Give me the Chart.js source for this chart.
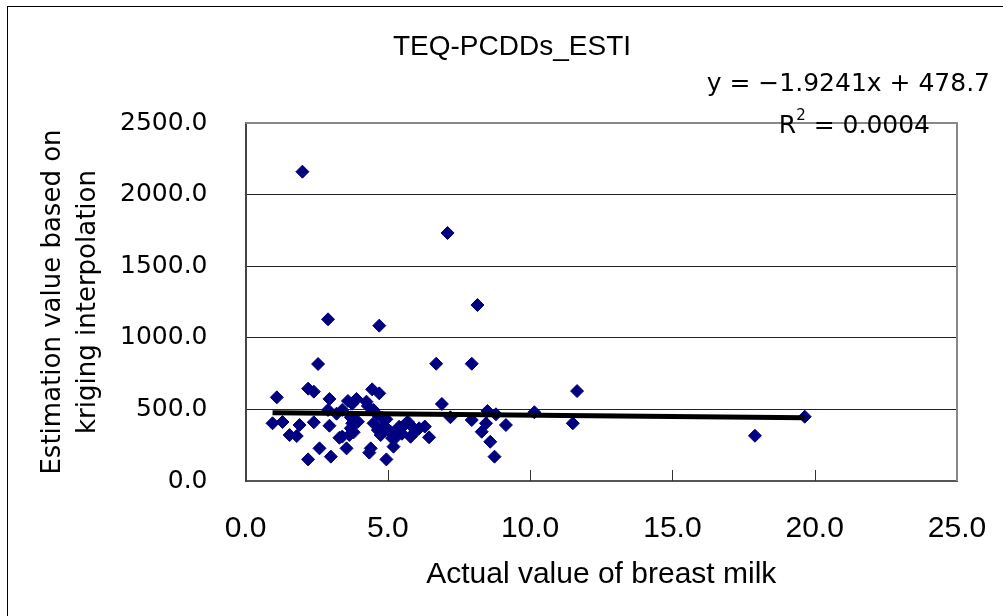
<!DOCTYPE html>
<html>
<head>
<meta charset="utf-8">
<title>TEQ-PCDDs_ESTI</title>
<script src="https://cdn.jsdelivr.net/npm/chart.js@4.4.0/dist/chart.umd.min.js"></script>
<style>
  html, body { margin: 0; padding: 0; background: #fff; }
  #contenedor { position: relative; width: 1003px; height: 616px; overflow: hidden; }
  #marco { position: absolute; left: 7px; top: 6px; width: 1020px; height: 640px; border: 1px solid #000; }
  #grafico { position: absolute; left: 0; top: 0; }
</style>
</head>
<body>
<div id="contenedor">
  <div id="marco"></div>
  <canvas id="grafico" width="1003" height="616"></canvas>
</div>
<script>
/* DATOS */
const valorLeche = [0.95, 1.1, 1.3, 1.55, 1.8, 1.9, 2.0, 2.2, 2.2, 2.4, 2.4, 2.55, 2.6, 2.9, 2.9, 2.95, 2.95, 3.0,
  3.3, 3.4, 3.55, 3.6, 3.65, 3.7, 3.75, 3.8, 3.9, 3.95, 4.25, 4.3, 4.35, 4.4, 4.45, 4.5, 4.5, 4.65, 4.7, 4.7,
  4.75, 4.85, 4.95, 4.95, 5.1, 5.2, 5.3, 5.4, 5.5, 5.7, 5.8, 5.9, 6.1, 6.45, 6.7, 6.9, 7.1, 7.2, 7.95, 7.95,
  8.15, 8.3, 8.45, 8.5, 8.6, 8.75, 8.8, 9.15, 10.15, 11.5, 11.65, 17.9, 19.65,
  3.75, 3.2, 3.7, 3.8, 3.4, 4.6, 4.8, 5.0, 5.6, 5.95, 6.3, 5.15];
const valorKriging = [403, 584, 412, 321, 314, 391, 2160, 645, 151, 624, 410, 817, 228, 1129, 496, 573, 386, 170,
  302, 496, 228, 559, 321, 368, 403, 426, 573, 414, 554, 524, 198, 228, 640, 496, 403, 356, 612, 1085,
  321, 380, 431, 151, 344, 240, 309, 379, 330, 414, 309, 370, 368, 305, 819, 538, 1732, 445, 819, 426,
  1229, 344, 403, 489, 274, 170, 466, 391, 480, 403, 628, 316, 449,
  540, 470, 445, 340, 310, 470, 440, 360, 395, 340, 380, 300];
const ticksX = [0, 5, 10, 15, 20, 25];
const ticksY = [0, 500, 1000, 1500, 2000, 2500];
const pendiente = -1.9241;
const intercepto = 478.7;

const puntos = valorLeche.map((v, i) => ({ x: v, y: valorKriging[i] }));
const xMin = Math.min(...valorLeche);
const xMax = Math.max(...valorLeche);
const tendencia = [
  { x: xMin, y: pendiente * xMin + intercepto },
  { x: xMax, y: pendiente * xMax + intercepto }
];

/* Textos y marcas extra */
const extras = {
  id: 'extras',
  beforeDatasetsDraw(chart) {
    const { ctx, chartArea: a } = chart;
    ctx.save();
    ctx.strokeStyle = '#888';
    ctx.lineWidth = 2;
    ctx.beginPath();
    ctx.moveTo(a.left, a.top);
    ctx.lineTo(a.right, a.top);
    ctx.lineTo(a.right, a.bottom);
    ctx.stroke();
    // marcas hacia dentro del eje x
    const sx = chart.scales.x;
    ctx.strokeStyle = '#333';
    ctx.lineWidth = 1;
    ticksX.slice(1, -1).forEach(v => {
      const px = Math.round(sx.getPixelForValue(v)) + 0.5;
      ctx.beginPath();
      ctx.moveTo(px, a.bottom);
      ctx.lineTo(px, a.bottom - 11);
      ctx.stroke();
    });
    ctx.restore();
  },
  afterDraw(chart) {
    const ctx = chart.ctx;
    ctx.save();
    ctx.fillStyle = '#000';
    ctx.textBaseline = 'middle';
    ctx.font = '28px "Liberation Sans", Arial, sans-serif';
    ctx.textAlign = 'center';
    ctx.fillText('TEQ-PCDDs_ESTI', 512, 47);

    ctx.font = '25px "DejaVu Sans", sans-serif';
    ctx.textAlign = 'right';
    ctx.fillText('y = \u22121.9241x + 478.7', 990, 84);

    // R cuadrado con superindice
    const resto = ' = 0.0004';
    ctx.textAlign = 'left';
    const wResto = ctx.measureText(resto).width;
    const wR = ctx.measureText('R').width;
    ctx.font = '15px "DejaVu Sans", sans-serif';
    const wDos = ctx.measureText('2').width;
    let x0 = 930 - wResto - wDos - wR;
    ctx.font = '25px "DejaVu Sans", sans-serif';
    ctx.fillText('R', x0, 126);
    ctx.font = '15px "DejaVu Sans", sans-serif';
    ctx.fillText('2', x0 + wR, 116);
    ctx.font = '25px "DejaVu Sans", sans-serif';
    ctx.fillText(resto, x0 + wR + wDos, 126);
    ctx.restore();
  }
};

const ctx = document.getElementById('grafico').getContext('2d');

const data = {
  datasets: [{
    label: 'TEQ-PCDDs_ESTI',
    data: puntos,
    pointStyle: 'rectRot',
    pointRadius: 6.5,
    pointHoverRadius: 6.5,
    backgroundColor: '#000080',
    borderColor: '#000080',
    borderWidth: 1,
    order: 1
  }, {
    label: 'Tendencia',
    data: tendencia,
    showLine: true,
    borderColor: '#000',
    borderWidth: 5,
    pointRadius: 0,
    order: 0
  }]
};

const options = {
  responsive: false,
  animation: false,
  layout: { padding: { top: 123, right: 46, bottom: 0, left: 0 } },
  scales: {
    x: {
      type: 'linear',
      min: 0,
      max: 25,
      afterBuildTicks: s => { s.ticks = ticksX.map(v => ({ value: v })); },
      afterFit: s => { s.height = 135; s.paddingLeft = 0; s.paddingRight = 0; },
      grid: { display: false, drawTicks: false },
      border: { display: true, color: '#555', width: 2 },
      ticks: {
        padding: 30,
        color: '#000',
        font: { family: '"Liberation Sans Narrow", "Liberation Sans", sans-serif', size: 30 },
        callback: v => v.toFixed(1)
      },
      title: {
        display: true,
        text: 'Actual value of breast milk',
        color: '#000',
        font: { family: '"Liberation Sans", Arial, sans-serif', size: 30 },
        padding: { top: 0, bottom: 23 }
      }
    },
    y: {
      type: 'linear',
      min: 0,
      max: 2500,
      afterBuildTicks: s => { s.ticks = ticksY.map(v => ({ value: v })); },
      afterFit: s => { s.width = 245.5; s.paddingTop = 0; s.paddingBottom = 0; },
      grid: {
        drawTicks: false,
        color: c => (c.tick && c.tick.value === 2500) ? '#888' : '#222',
        lineWidth: 1
      },
      border: { display: true, color: '#444', width: 2 },
      ticks: {
        padding: 38,
        color: '#000',
        font: { family: '"DejaVu Sans", sans-serif', size: 25 },
        callback: v => v.toFixed(1)
      },
      title: {
        display: true,
        text: ['Estimation value based on', 'kriging interpolation'],
        color: '#000',
        font: { family: '"DejaVu Sans", sans-serif', size: 26, lineHeight: 1.35 },
        padding: { top: 35.5, bottom: 0 }
      }
    }
  },
  plugins: {
    legend: { display: false },
    tooltip: { enabled: false }
  }
};

const miGrafico = new Chart(ctx, {
  type: 'scatter',
  data: data,
  options: options,
  plugins: [extras]
});
</script>
</body>
</html>
